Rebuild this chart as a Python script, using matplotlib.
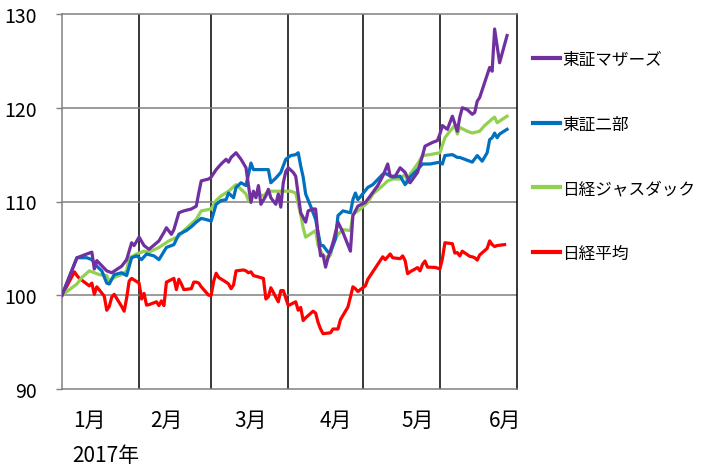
import matplotlib
matplotlib.use("Agg")
import matplotlib.pyplot as plt
from matplotlib.lines import Line2D
from datetime import date

plt.rcParams['font.family'] = ['Noto Sans CJK JP', 'DejaVu Sans']


def to_dates(md_list):
    # "MM-DD" strings, December belongs to 2016
    out = []
    for s in md_list:
        m, d = int(s[:2]), int(s[3:])
        out.append(date(2016 if m == 12 else 2017, m, d))
    return out


""" Data (index, 2016-12-30 = 100) """
mothers_dates = ["12-30", "01-05", "01-11", "01-12", "01-13", "01-17", "01-19", "01-23", "01-25",
                 "01-27", "01-28", "01-30", "02-01", "02-03", "02-07", "02-09", "02-10", "02-12",
                 "02-13", "02-15", "02-17", "02-20", "02-22", "02-23", "02-24", "02-27", "02-28",
                 "03-02", "03-04", "03-06", "03-07", "03-08", "03-10", "03-12", "03-14", "03-15",
                 "03-16", "03-17", "03-18", "03-19", "03-20", "03-22", "03-23", "03-24", "03-26",
                 "03-27", "03-28", "03-29", "03-30", "03-31", "04-02", "04-03", "04-05", "04-07",
                 "04-08", "04-10", "04-11", "04-12", "04-13", "04-14", "04-15", "04-16", "04-18",
                 "04-20", "04-22", "04-25", "04-26", "04-28", "05-01", "05-03", "05-06", "05-08",
                 "05-10", "05-11", "05-13", "05-15", "05-17", "05-19", "05-22", "05-24", "05-25",
                 "05-28", "05-30", "05-31", "06-01", "06-03", "06-04", "06-05", "06-07", "06-08",
                 "06-09", "06-11", "06-13", "06-14", "06-15", "06-16", "06-18", "06-20", "06-21",
                 "06-22", "06-24", "06-27"]
mothers_vals = [100.0, 104.0, 104.6, 102.8, 103.7, 102.6, 102.4, 103.1, 103.8,
                105.6, 105.3, 106.2, 105.3, 104.9, 105.8, 106.7, 107.2, 106.5,
                107.0, 108.8, 109.0, 109.2, 109.5, 110.9, 112.2, 112.4, 112.6,
                113.4, 114.0, 114.5, 114.2, 114.7, 115.2, 114.5, 113.6, 111.7,
                109.9, 111.1, 110.4, 111.7, 109.7, 110.6, 111.3, 110.4, 109.7,
                110.8, 109.4, 112.0, 113.2, 113.6, 113.1, 112.7, 108.8, 107.8,
                109.0, 109.2, 109.2, 106.3, 104.2, 104.3, 103.0, 104.0, 105.6,
                107.8, 106.7, 104.7, 108.5, 109.5, 109.9, 110.6, 111.7, 112.7,
                114.0, 112.7, 112.7, 113.6, 113.1, 112.0, 113.1, 114.9, 115.9,
                116.3, 116.5, 117.2, 118.1, 117.7, 118.4, 119.1, 117.5, 119.0,
                120.0, 119.8, 119.3, 119.5, 120.7, 121.1, 122.7, 124.3, 123.9,
                128.4, 124.8, 127.7]

second_dates = ["12-30", "01-05", "01-09", "01-11", "01-13", "01-15", "01-17", "01-18", "01-20",
                "01-23", "01-25", "01-27", "01-29", "01-31", "02-02", "02-05", "02-07", "02-10",
                "02-13", "02-15", "02-18", "02-20", "02-22", "02-24", "02-27", "02-28", "03-02",
                "03-04", "03-06", "03-07", "03-09", "03-10", "03-12", "03-14", "03-16", "03-17",
                "03-21", "03-23", "03-24", "03-26", "03-28", "03-29", "03-30", "04-01", "04-03",
                "04-04", "04-05", "04-06", "04-07", "04-09", "04-11", "04-13", "04-14", "04-16",
                "04-17", "04-19", "04-20", "04-22", "04-25", "04-26", "04-27", "04-28", "04-29",
                "05-02", "05-04", "05-08", "05-09", "05-12", "05-15", "05-17", "05-19", "05-22",
                "05-24", "05-27", "05-31", "06-01", "06-02", "06-05", "06-07", "06-08", "06-10",
                "06-13", "06-15", "06-17", "06-19", "06-20", "06-21", "06-22", "06-23", "06-24",
                "06-27"]
second_vals = [100.0, 104.0, 104.0, 103.8, 103.1, 102.6, 101.3, 101.2, 102.2,
               102.4, 102.1, 104.0, 104.2, 103.8, 104.4, 104.2, 103.8, 105.1,
               105.4, 106.5, 106.9, 107.3, 107.8, 108.2, 108.0, 107.9, 109.7,
               110.1, 110.2, 110.9, 110.4, 111.5, 112.0, 111.7, 114.1, 113.4,
               113.4, 113.4, 112.0, 112.5, 113.1, 113.8, 114.5, 114.9, 115.0,
               115.2, 113.8, 112.6, 110.8, 109.5, 108.1, 105.3, 105.3, 104.6,
               104.6, 106.0, 108.5, 109.0, 108.8, 110.2, 110.9, 110.2, 110.5,
               111.5, 111.8, 112.9, 113.0, 112.6, 112.7, 111.8, 112.6, 113.4,
               114.0, 114.0, 114.2, 114.0, 114.9, 115.0, 114.7, 114.7, 114.5,
               114.2, 114.9, 114.3, 115.2, 116.6, 116.8, 117.3, 116.8, 117.2,
               117.7]

jasdaq_dates = ["12-30", "01-05", "01-07", "01-10", "01-12", "01-14", "01-17", "01-18", "01-20",
                "01-23", "01-25", "01-26", "01-29", "02-01", "02-03", "02-07", "02-11", "02-15",
                "02-17", "02-22", "02-24", "02-28", "03-02", "03-04", "03-07", "03-10", "03-12",
                "03-14", "03-15", "03-17", "03-19", "03-21", "03-23", "03-28", "04-01", "04-03",
                "04-05", "04-06", "04-07", "04-11", "04-12", "04-14", "04-16", "04-17", "04-18",
                "04-20", "04-22", "04-25", "04-26", "04-29", "05-02", "05-04", "05-08", "05-10",
                "05-12", "05-15", "05-17", "05-18", "05-19", "05-22", "05-24", "05-27", "05-31",
                "06-02", "06-04", "06-06", "06-07", "06-08", "06-11", "06-13", "06-16", "06-18",
                "06-21", "06-22", "06-23", "06-27"]
jasdaq_vals = [100.0, 101.2, 101.9, 102.6, 102.4, 102.2, 102.1, 101.5, 101.9,
               102.2, 102.6, 104.0, 104.4, 104.7, 104.6, 105.1, 105.8, 106.3,
               106.9, 108.1, 109.0, 109.2, 110.1, 110.6, 111.1, 111.8, 111.3,
               110.8, 110.1, 110.9, 110.8, 110.6, 111.1, 111.1, 111.1, 110.9,
               108.6, 107.2, 106.2, 106.9, 105.3, 104.2, 104.0, 104.3, 105.6,
               106.5, 107.0, 106.9, 108.6, 109.2, 109.9, 110.8, 111.7, 112.2,
               112.4, 112.4, 112.9, 112.0, 112.9, 114.0, 114.9, 115.0, 115.2,
               116.8, 117.5, 118.1, 117.2, 117.9, 117.5, 117.3, 117.5, 118.1,
               118.8, 119.0, 118.4, 119.1]

nikkei_dates = ["12-30", "01-04", "01-05", "01-06", "01-10", "01-11", "01-12", "01-13", "01-16",
                "01-17", "01-18", "01-19", "01-20", "01-23", "01-24", "01-25", "01-26", "01-27",
                "01-30", "01-31", "02-01", "02-02", "02-03", "02-06", "02-07", "02-08", "02-09",
                "02-10", "02-13", "02-14", "02-15", "02-16", "02-17", "02-20", "02-21", "02-22",
                "02-23", "02-24", "02-27", "02-28", "03-01", "03-02", "03-03", "03-06", "03-07",
                "03-08", "03-09", "03-10", "03-13", "03-14", "03-15", "03-16", "03-17", "03-21",
                "03-22", "03-23", "03-24", "03-27", "03-28", "03-29", "03-30", "03-31", "04-03",
                "04-04", "04-05", "04-06", "04-07", "04-10", "04-11", "04-12", "04-13", "04-14",
                "04-17", "04-18", "04-19", "04-20", "04-21", "04-24", "04-25", "04-26", "04-27",
                "04-28", "05-01", "05-02", "05-08", "05-09", "05-10", "05-11", "05-12", "05-15",
                "05-16", "05-17", "05-18", "05-19", "05-22", "05-23", "05-24", "05-25", "05-26",
                "05-29", "05-30", "05-31", "06-01", "06-02", "06-05", "06-06", "06-07", "06-08",
                "06-09", "06-12", "06-13", "06-14", "06-15", "06-16", "06-19", "06-20", "06-21",
                "06-22", "06-23", "06-26"]
nikkei_vals = [100.0, 102.5, 102.1, 101.8, 101.0, 101.3, 100.1, 100.9, 99.9,
               98.4, 98.8, 99.8, 100.1, 98.8, 98.3, 99.7, 101.5, 101.8,
               101.3, 99.6, 100.2, 98.95, 99.0, 99.3, 98.9, 99.4, 98.9,
               101.4, 101.8, 100.6, 101.7, 101.2, 100.6, 100.7, 101.4, 101.4,
               101.3, 100.9, 100.0, 100.0, 101.5, 102.35, 101.9, 101.4, 101.2,
               100.7, 101.1, 102.6, 102.7, 102.6, 102.4, 102.5, 102.1, 101.8,
               99.6, 99.85, 100.8, 99.3, 100.5, 100.5, 99.7, 98.9, 99.3,
               98.4, 98.7, 97.3, 97.6, 98.3, 98.1, 97.1, 96.4, 95.9,
               96.0, 96.4, 96.4, 96.4, 97.4, 98.75, 99.8, 100.9, 100.7,
               100.4, 101.0, 101.7, 104.1, 103.8, 104.1, 104.4, 104.0, 103.9,
               104.2, 103.7, 102.3, 102.5, 102.95, 102.6, 103.3, 103.65, 103.0,
               102.97, 102.9, 102.8, 103.9, 105.6, 105.5, 104.5, 104.55, 104.2,
               104.7, 104.15, 104.1, 104.0, 103.75, 104.3, 105.0, 105.8, 105.4,
               105.2, 105.3, 105.4]

series_names = ["東証マザーズ", "東証二部", "日経ジャスダック", "日経平均"]
series_colors = ["#7030A0", "#0070C0", "#92D050", "#FF0000"]

month_lines = ["01-30", "02-28", "03-31", "04-30", "05-31"]
month_label_pos = ["01-10", "02-10", "03-16", "04-19", "05-22", "06-26"]
month_labels = ["1月", "2月", "3月", "4月", "5月", "6月"]
y_ticks = [90, 100, 110, 120, 130]


""" Figure """
W, H = 701, 477
fig = plt.figure(figsize=(W / 100, H / 100), dpi=100)
ax = fig.add_axes([62 / W, 1 - 390 / H, 455 / W, 375 / H])

ax.set_xlim(date(2016, 12, 30), date(2017, 7, 1))
ax.set_ylim(90, 130)

for d in to_dates(month_lines):
    ax.axvline(d, color="black", lw=1.1, zorder=1)
for v in [100, 110, 120]:
    ax.axhline(v, color="#808080", lw=1.1, zorder=1)

all_series = [(mothers_dates, mothers_vals), (second_dates, second_vals),
              (jasdaq_dates, jasdaq_vals), (nikkei_dates, nikkei_vals)]
for i in [3, 2, 1, 0]:  # red at the back, purple on top
    ds, vs = all_series[i]
    ax.plot(to_dates(ds), vs, color=series_colors[i], lw=2.3, zorder=3 + (3 - i),
            solid_joinstyle="round")

for side in ["left", "top", "bottom"]:
    ax.spines[side].set_color("#808080")
    ax.spines[side].set_linewidth(1.1)
ax.spines["right"].set_color("black")
ax.spines["right"].set_linewidth(1.1)

ax.set_yticks(y_ticks)
ax.set_yticklabels([str(v) for v in y_ticks])
ax.tick_params(axis="y", length=4, width=1, color="#808080", labelsize=14, pad=14)

ax.set_xticks(to_dates(month_label_pos))
ax.set_xticklabels(month_labels)
ax.tick_params(axis="x", length=0, labelsize=15, pad=14)

fig.text(72 / W, 1 - 456 / H, "2017年", fontsize=15, ha="left", va="center")

handles = [Line2D([0], [0], color=c, lw=3) for c in series_colors]
fig.legend(handles, series_names, loc="upper left",
           bbox_to_anchor=(533 / W, 1 - 52 / H), frameon=False,
           fontsize=12, handlelength=1.6, handletextpad=0.15,
           labelspacing=2.85, borderpad=0, borderaxespad=0)

fig.savefig("out.png", dpi=100)
